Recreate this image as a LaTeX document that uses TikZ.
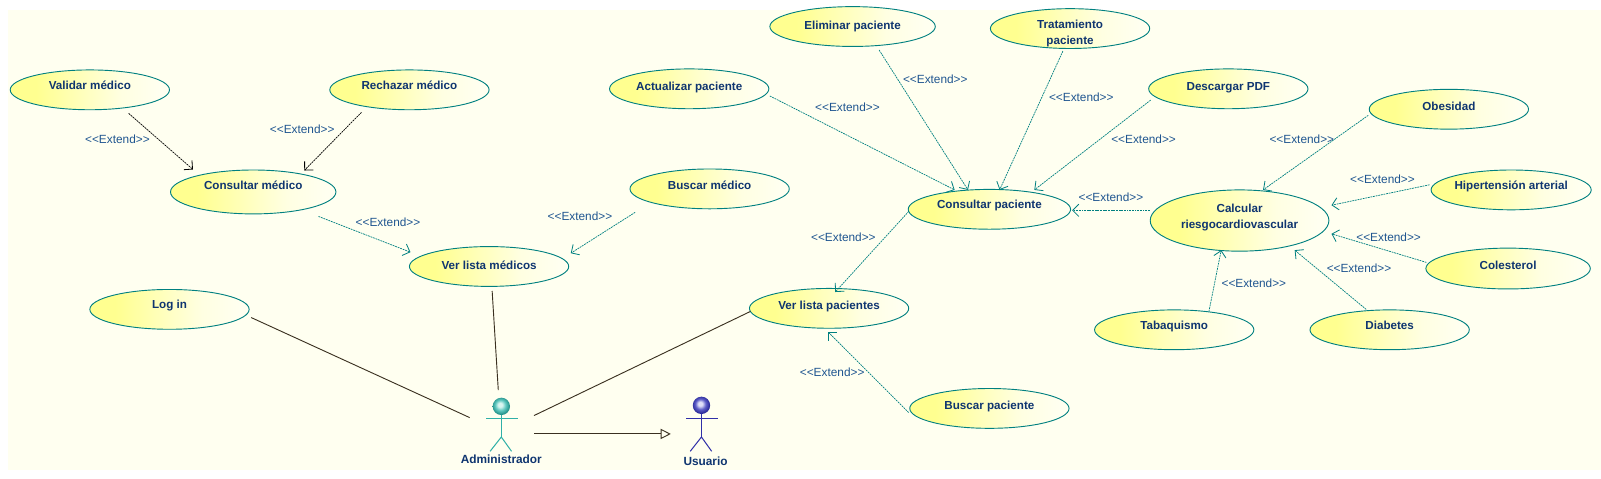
\documentclass[tikz,border=0pt]{standalone}
\usepackage{fontspec}
\setmainfont{Liberation Sans}
\usetikzlibrary{shapes.geometric,arrows.meta,calc,shadings}
\definecolor{bgc}{HTML}{FFFFF0}
\definecolor{teal1}{HTML}{008080}
\definecolor{navy1}{HTML}{0F3570}
\definecolor{blue1}{HTML}{1F5590}
\definecolor{lineK}{HTML}{3A3020}
\definecolor{ucY}{HTML}{FFFF90}
\definecolor{ballTa}{HTML}{D8F5F0}
\definecolor{ballTb}{HTML}{60C8C0}
\definecolor{ballTc}{HTML}{188880}
\definecolor{ballBa}{HTML}{E0E0F8}
\definecolor{ballBb}{HTML}{6060C8}
\definecolor{ballBc}{HTML}{202090}
\definecolor{stickTc}{HTML}{30B0A8}
\definecolor{stickBc}{HTML}{3030A8}
\pgfdeclarehorizontalshading{ucgrad}{100bp}{color(0bp)=(ucY); color(33bp)=(ucY); color(60bp)=(bgc!85!ucY); color(72bp)=(bgc); color(100bp)=(bgc)}
\pgfdeclareradialshading{ballT}{\pgfpoint{-4bp}{5bp}}{color(0bp)=(ballTa); color(6bp)=(ballTa); color(15bp)=(ballTb); color(27bp)=(ballTc); color(50bp)=(ballTc)}
\pgfdeclareradialshading{ballB}{\pgfpoint{-4bp}{5bp}}{color(0bp)=(ballBa); color(6bp)=(ballBa); color(15bp)=(ballBb); color(27bp)=(ballBc); color(50bp)=(ballBc)}
\tikzset{
  uc/.style={ellipse,draw=teal1,line width=.45pt,shade,shading=ucgrad,inner sep=0pt,minimum width=78pt,minimum height=19.5pt,text=navy1,font=\bfseries\fontsize{5.7}{7.8}\selectfont,align=center},
  ext/.style={teal1,line width=.35pt,dash pattern=on .9pt off .4pt,-{Straight Barb[length=3pt,width=6pt,line width=.4pt]}},
  extK/.style={ext,black},
  assoc/.style={lineK,line width=.45pt},
  lbl/.style={text=blue1,font=\fontsize{5.8}{7}\selectfont,inner sep=0pt},
  actname/.style={text=navy1,font=\bfseries\fontsize{5.8}{7}\selectfont,inner sep=0pt},
  stickT/.style={stickTc,line width=.5pt},
  stickB/.style={stickBc,line width=.5pt},
  headT/.style={circle,minimum size=8.5pt,inner sep=0pt,shade,shading=ballT},
  headB/.style={circle,minimum size=8.5pt,inner sep=0pt,shade,shading=ballB},
}
\newcommand{\up}[2]{\raisebox{#1}[0pt][0pt]{#2}}
\begin{document}
\begin{tikzpicture}[x=.5pt,y=-.5pt]
\useasboundingbox (0,0) rectangle (1568,469);
\fill[bgc] (8,10) rectangle (1568,460);
% use cases
\node[uc] (validar) at (88,88) {\up{0pt}{Validar médico}};
\node[uc] (rechazar) at (401,88) {\up{0pt}{Rechazar médico}};
\node[uc,minimum width=81pt,minimum height=21.5pt] (cmed) at (248,188) {\up{1pt}{Consultar médico}};
\node[uc] (bmed) at (695,185) {\up{-.5pt}{Buscar médico}};
\node[uc] (vmed) at (479,261) {\up{-1.5pt}{Ver lista médicos}};
\node[uc] (login) at (166,303) {\up{.5pt}{Log in}};
\node[uc] (vpac) at (812,302) {\up{-.5pt}{Ver lista pacientes}};
\node[uc] (bpac) at (969,400) {\up{-.5pt}{Buscar paciente}};
\node[uc] (apac) at (675,87) {\up{-1pt}{Actualizar paciente}};
\node[uc,minimum width=81pt] (epac) at (835,26) {\up{-1.5pt}{Eliminar paciente}};
\node[uc] (tpac) at (1048,28) {\raisebox{-4pt}[0pt][0pt]{\begin{tabular}{@{}c@{}}Tratamiento\\paciente\end{tabular}}};
\node[uc] (pdf) at (1203,87) {\up{-1pt}{Descargar PDF}};
\node[uc,minimum width=79.5pt] (cpac) at (969,205) {\up{.5pt}{Consultar paciente}};
\node[uc] (obes) at (1419,107) {\up{-.5pt}{Obesidad}};
\node[uc,minimum width=87.5pt,minimum height=30pt] (calc) at (1214,216) {\raisebox{.25pt}[0pt][0pt]{\begin{tabular}{@{}c@{}}Calcular\\riesgocardiovascular\end{tabular}}};
\node[uc] (hip) at (1480,186) {\up{0pt}{Hipertensión arterial}};
\node[uc,minimum width=80.5pt,minimum height=20pt] (col) at (1477,263) {\up{-.5pt}{Colesterol}};
\node[uc] (tab) at (1150,323) {\up{0pt}{Tabaquismo}};
\node[uc] (dia) at (1361,323) {\up{0pt}{Diabetes}};
% actors
\node[headT] (adm) at (491,398) {};
\node[headB] (usr) at (687,397) {};
\node[actname] (admL) at (491,450) {Administrador};
\node[actname] (usrL) at (691,452) {Usuario};
\draw[stickT] ($(adm)+(-15,12)$) -- ($(adm)+(16,12)$);
\draw[stickT] ($(adm)+(0,8)$) -- ($(adm)+(0,30)$);
\draw[stickT] ($(adm)+(-11,44)$) -- ($(adm)+(0,30)$) -- ($(adm)+(10,44)$);
\draw[stickB] ($(usr)+(-15,13)$) -- ($(usr)+(16,13)$);
\draw[stickB] ($(usr)+(0,8)$) -- ($(usr)+(0,31)$);
\draw[stickB] ($(usr)+(-11,45)$) -- ($(usr)+(0,31)$) -- ($(usr)+(10,45)$);
% extend connectors
\draw[extK] ($(validar)+(38,23)$) -- ($(cmed)+(-59,-22)$);
\draw[extK] ($(rechazar)+(-47,22)$) -- ($(cmed)+(50,-21)$);
\draw[ext] ($(cmed)+(64,24)$) -- ($(vmed)+(-77,-14)$);
\draw[ext] ($(bmed)+(-73,23)$) -- ($(vmed)+(80,-13)$);
\draw[ext] ($(apac)+(79,7)$) -- ($(cpac)+(-34,-19)$);
\draw[ext] ($(epac)+(26,23)$) -- ($(cpac)+(-21,-19)$);
\draw[ext] ($(tpac)+(-7,22)$) -- ($(cpac)+(10,-19)$);
\draw[ext] ($(pdf)+(-76,11)$) -- ($(cpac)+(44,-19)$);
\draw[ext] ($(calc)+(-88,-10)$) -- ($(cpac)+(81,1)$);
\draw[ext] ($(cpac)+(-79,2)$) -- ($(vpac)+(6,-16)$);
\draw[ext] ($(bpac)+(-79,4)$) -- ($(vpac)+(-1,23)$);
\draw[ext] ($(obes)+(-79,6)$) -- ($(calc)+(23,-30)$);
\draw[ext] ($(hip)+(-80,-5)$) -- ($(calc)+(90,-15)$);
\draw[ext] ($(col)+(-80,-6)$) -- ($(calc)+(90,13)$);
\draw[ext] ($(dia)+(-23,-20)$) -- ($(calc)+(54,29)$);
\draw[ext] ($(tab)+(34,-18)$) -- ($(calc)+(-18,29)$);
% associations
\draw[assoc] ($(login)+(80,8)$) -- ($(adm)+(-31,11)$);
\draw[assoc] ($(vmed)+(3,24)$) -- ($(adm)+(-3,-16)$);
\draw[assoc] ($(vpac)+(-77,3)$) -- ($(adm)+(32,9)$);
\draw[assoc,-{Triangle[open,length=5pt,width=5pt,fill=bgc]}] ($(adm)+(32,27)$) -- ($(usr)+(-30,28)$);
% labels
\node[lbl] (l1) at (115,136) {<{}<Extend>{}>};
\node[lbl] (l2) at (296,127) {<{}<Extend>{}>};
\node[lbl] (l3) at (380,218) {<{}<Extend>{}>};
\node[lbl] (l4) at (568,212) {<{}<Extend>{}>};
\node[lbl] (l5) at (830,105) {<{}<Extend>{}>};
\node[lbl] (l6) at (916,78) {<{}<Extend>{}>};
\node[lbl] (l7) at (1059,95) {<{}<Extend>{}>};
\node[lbl] (l8) at (1120,136) {<{}<Extend>{}>};
\node[lbl] (l9) at (1088,193) {<{}<Extend>{}>};
\node[lbl] (l10) at (826,232) {<{}<Extend>{}>};
\node[lbl] (l11) at (815,365) {<{}<Extend>{}>};
\node[lbl] (l12) at (1275,136) {<{}<Extend>{}>};
\node[lbl] (l13) at (1354,176) {<{}<Extend>{}>};
\node[lbl] (l14) at (1360,232) {<{}<Extend>{}>};
\node[lbl] (l15) at (1331,263) {<{}<Extend>{}>};
\node[lbl] (l16) at (1228,277) {<{}<Extend>{}>};
\end{tikzpicture}
\end{document}
